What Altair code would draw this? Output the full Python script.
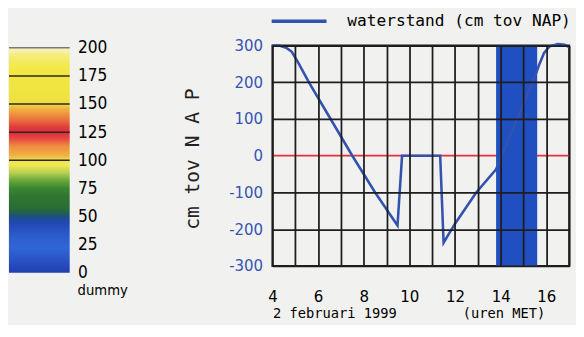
import altair as alt
import pandas as pd

# ---- water level series (hours MET, cm tov NAP) ----
hours = [4.0, 4.3, 4.6, 4.85, 5.1, 5.6, 6.55, 7.5, 8.5, 9.48, 9.68, 11.35, 11.5,
         12.0, 12.93, 13.8, 15.55, 15.7, 15.9, 16.15, 16.5, 16.8, 17.0]
level = [300, 300, 294, 283, 257, 200, 100, 0, -100, -190, 0, 0, -237,
         -185, -100, -37, 224, 250, 280, 298, 304, 302, 296]
series_name = "waterstand (cm tov NAP)"

# shaded period
band_start = [13.8]
band_end = [15.6]

# reference line
zero_level = [0]

# axis ticks
x_grid = list(range(4, 18))
y_grid = [-300, -200, -100, 0, 100, 200, 300]

# ---- colour bar ("dummy") ----
cb_values = [0, 10, 22, 33, 44, 50, 53, 58, 68, 75, 82, 89, 96, 100, 104, 108,
             113, 119, 125, 130, 135, 140, 146, 150, 160, 180, 192, 200]
cb_colors = ["#1f3fae", "#2850c4", "#3066d6", "#2c5ccc", "#2148b5", "#1e4e88",
             "#22604a", "#2a6e34", "#2f7632", "#3a8630", "#6aa83a", "#b8d050",
             "#f0ea50", "#f2e050", "#f0b444", "#f0a040", "#ef8a40", "#e84a40",
             "#dd2a3c", "#e2403c", "#e86a3c", "#ef8c3e", "#f0b440", "#f0dc40",
             "#f0e440", "#f2e840", "#f4ec70", "#f6f2c8"]
cb_ticks = [0, 25, 50, 75, 100, 125, 150, 175, 200]
cb_rules = [100, 125, 150, 175, 200]
cb_rule_colors = ["#2a2a20", "#2a2a20", "#2a2a20", "#2a2a20", "#7a7a72"]
cb_title = "dummy"

x_title = "2 februari 1999\u00a0\u00a0\u00a0\u00a0\u00a0\u00a0\u00a0\u00a0(uren MET)"
y_title = "cm\u00a0tov\u00a0N\u00a0A\u00a0P"

MONO = "DejaVu Sans Mono"
NARROW = "DejaVu Sans Condensed"
BLUE_LINE = "#3352b0"
BAND = "#1f4fc0"
RED = "#e8303a"
GRID = "#1e1e1e"
BG = "#f1f1ef"

CB_W = 62
SPACING = 207

# ---------------- colour bar chart ----------------
lo, hi = cb_values[0], cb_values[-1]
stops = [alt.GradientStop(offset=(v - lo) / (hi - lo), color=c)
         for v, c in zip(cb_values, cb_colors)]
grad = alt.LinearGradient(gradient="linear", stops=stops, x1=0, x2=0, y1=1, y2=0)

cb_df = pd.DataFrame({"lo": [lo], "hi": [hi]})
cb_scale = alt.Scale(domain=[0, 202], nice=False, zero=False)
cb_axis = alt.Axis(orient="right", values=cb_ticks, domain=False, ticks=False,
                   tickSize=0, grid=False, labelFont=NARROW, labelFontSize=17.5,
                   labelColor="black", labelPadding=8, title=None)

cb_rect = alt.Chart(cb_df).mark_rect(color=grad).encode(
    y=alt.Y("lo:Q", scale=cb_scale, axis=cb_axis),
    y2="hi:Q",
)
rules_df = pd.DataFrame({"v": cb_rules, "c": cb_rule_colors})
cb_lines = alt.Chart(rules_df).mark_rule(strokeWidth=1.6).encode(
    y=alt.Y("v:Q", scale=cb_scale, axis=cb_axis),
    color=alt.Color("c:N", scale=None),
)
title_df = pd.DataFrame({"v": [0], "t": [cb_title]})
cb_text = alt.Chart(title_df).mark_text(
    align="left", baseline="alphabetic", dx=8, dy=23, font=NARROW,
    fontSize=15, color="black"
).encode(
    y=alt.Y("v:Q", scale=cb_scale, axis=cb_axis),
    x=alt.value(CB_W),
    text="t:N",
)
colorbar = alt.layer(cb_rect, cb_lines, cb_text).properties(
    width=CB_W, height=232,
    view=alt.ViewBackground(strokeWidth=0),
)

# ---------------- main chart ----------------
x_scale = alt.Scale(domain=[4, 17], nice=False, zero=False)
y_scale = alt.Scale(domain=[-300, 300], nice=False, zero=False)

x_axis = alt.Axis(
    values=x_grid, labelExpr="datum.value % 2 == 0 && datum.value < 17 ? '' + datum.value : ''",
    grid=True, gridColor=GRID, gridWidth=1.8, gridOpacity=1,
    domain=False, ticks=False, tickSize=0,
    labelFont=NARROW, labelFontSize=17, labelColor="black",
    labelBaseline="alphabetic", labelPadding=36, labelFlush=False,
    title=x_title,
    titleFont=MONO, titleFontSize=14, titleFontWeight="normal", titleColor="black",
    titleAnchor="start", titleAlign="left", titleBaseline="alphabetic",
    titleX=0, titleY=53, zindex=1,
)
y_axis = alt.Axis(
    values=y_grid, labelExpr="'' + datum.value",
    grid=True,
    gridColor={"condition": {"test": "datum.value === 0", "value": "transparent"},
               "value": GRID},
    gridWidth=1.8, gridOpacity=1,
    domain=False, ticks=False, tickSize=0,
    labelFont=NARROW, labelFontSize=17, labelColor="#3556b4", labelPadding=10,
    labelFlush=False,
    title=y_title,
    titleFont=MONO, titleFontSize=20, titleFontWeight="normal", titleColor="#222222",
    titleAlign="center", titleBaseline="middle", titleX=-81, titleY=115.5,
    zindex=1,
)

zero_df = pd.DataFrame({"level": zero_level})
zero = alt.Chart(zero_df).mark_rule(color=RED, strokeWidth=1.8).encode(
    y=alt.Y("level:Q", scale=y_scale, axis=y_axis),
)

band_df = pd.DataFrame({"start": band_start, "end": band_end})
band = alt.Chart(band_df).mark_rect(color=BAND, opacity=1).encode(
    x=alt.X("start:Q", scale=x_scale, axis=x_axis),
    x2="end:Q",
)

line_df = pd.DataFrame({"hour": hours, "level": level, "series": series_name})
line = alt.Chart(line_df).mark_line(strokeWidth=2.6, clip=False).encode(
    x=alt.X("hour:Q", scale=x_scale, axis=x_axis),
    y=alt.Y("level:Q", scale=y_scale, axis=y_axis),
    color=alt.Color(
        "series:N",
        scale=alt.Scale(domain=[series_name], range=[BLUE_LINE]),
        legend=alt.Legend(
            orient="none", legendX=CB_W + SPACING + 19, legendY=-33, title=None,
            symbolType="M-8,0H8", symbolSize=49, symbolStrokeWidth=3.5,
            labelFont=MONO, labelFontSize=16.5, labelColor="black",
            labelOffset=41, labelLimit=400, padding=0,
        ),
    ),
)

main = alt.layer(zero, band, line).properties(
    width=303, height=225,
    view=alt.ViewBackground(stroke=GRID, strokeWidth=2),
)

chart = alt.hconcat(colorbar, main, spacing=SPACING, bounds="flush").properties(
    background=BG,
    padding={"left": 0, "top": 2, "right": 0, "bottom": 0},
).configure_view(stroke="transparent")

chart.save("out.html", embed_options={"renderer": "svg", "actions": False})
